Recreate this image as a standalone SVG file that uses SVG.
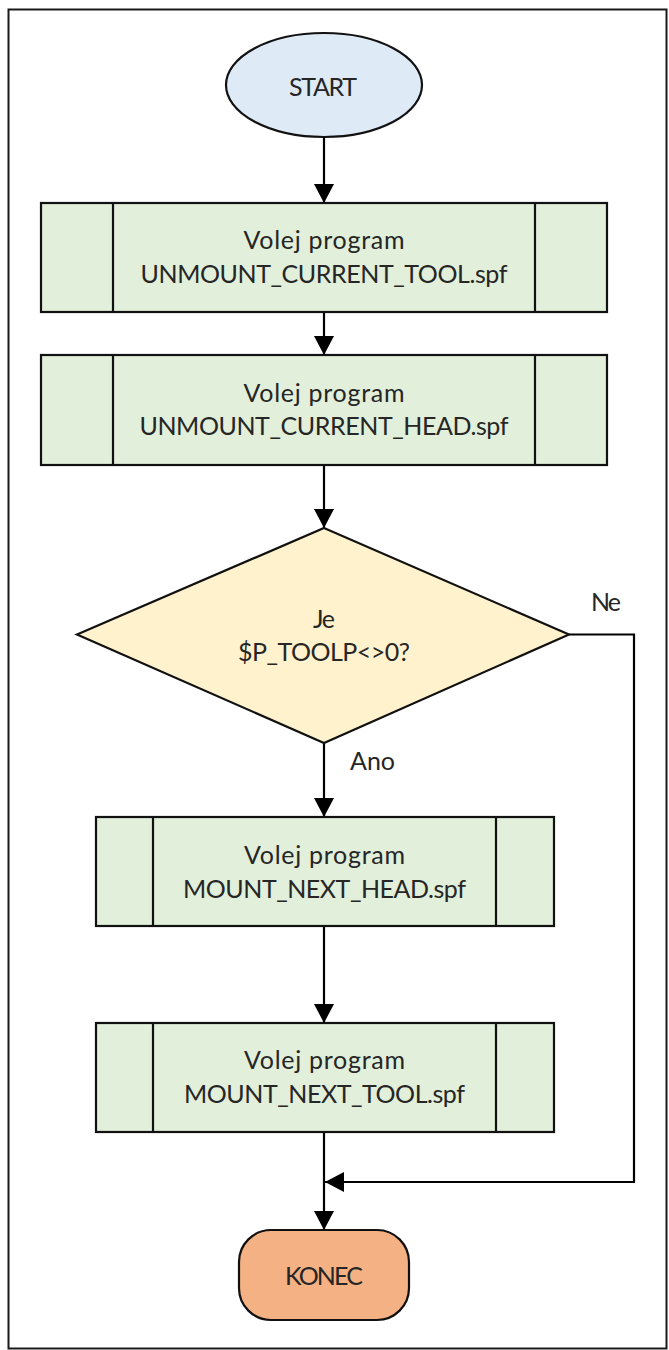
<svg xmlns="http://www.w3.org/2000/svg" width="669" height="1350" viewBox="0 0 669 1350">
  <style>
    .frame { fill: none; stroke: #1a1a1a; stroke-width: 2; }
    .shape { stroke: #111; stroke-width: 2.2; }
    .proc { fill: #E2EFDA; }
    .bar { stroke: #111; stroke-width: 2.2; fill: none; }
    .start { fill: #DEEBF7; }
    .decision { fill: #FFF2CC; }
    .end { fill: #F4B183; }
    .label { font-family: Lato, "Liberation Sans", sans-serif; font-size: 25px; fill: #262626; text-anchor: middle; }
    .edge-label { font-family: Lato, "Liberation Sans", sans-serif; font-size: 25px; fill: #262626; }
    .link { fill: none; stroke: #000; stroke-width: 2.2; }
  </style>
  <defs>
    <marker id="arrow" viewBox="0 0 19 20" refX="19" refY="10" markerWidth="19" markerHeight="20" markerUnits="userSpaceOnUse" orient="auto">
      <path d="M0,0 L19,10 L0,20 Z" fill="#000"/>
    </marker>
  </defs>

  <rect fill="#fff" x="0" y="0" width="669" height="1350"/>
  <rect class="frame" x="8.5" y="9.5" width="658" height="1339"/>

  <g id="connectors">
    <line class="link" x1="324" y1="137" x2="324" y2="203" marker-end="url(#arrow)"/>
    <line class="link" x1="324" y1="312" x2="324" y2="355" marker-end="url(#arrow)"/>
    <line class="link" x1="324" y1="465" x2="324" y2="528" marker-end="url(#arrow)"/>
    <line class="link" x1="324" y1="743" x2="324" y2="817" marker-end="url(#arrow)"/>
    <line class="link" x1="324" y1="926" x2="324" y2="1023" marker-end="url(#arrow)"/>
    <line class="link" x1="324" y1="1132" x2="324" y2="1230" marker-end="url(#arrow)"/>
    <path class="link" d="M569,634.5 H634 V1182 H325" marker-end="url(#arrow)"/>
    <text class="edge-label" x="591" y="611" textLength="30">Ne</text>
    <text class="edge-label" x="350" y="770" textLength="45">Ano</text>
  </g>

  <g id="start">
    <ellipse class="shape start" cx="324" cy="85" rx="98" ry="52"/>
    <text class="label" x="323" y="96" textLength="68">START</text>
  </g>

  <g id="unmount-tool">
    <rect class="shape proc" x="41" y="203" width="566" height="109"/>
    <line class="bar" x1="113" y1="203" x2="113" y2="312"/>
    <line class="bar" x1="535" y1="203" x2="535" y2="312"/>
    <text class="label" x="324" y="249" textLength="161">Volej program</text>
    <text class="label" x="324" y="283" textLength="367">UNMOUNT_CURRENT_TOOL.spf</text>
  </g>

  <g id="unmount-head">
    <rect class="shape proc" x="41" y="355" width="566" height="110"/>
    <line class="bar" x1="113" y1="355" x2="113" y2="465"/>
    <line class="bar" x1="535" y1="355" x2="535" y2="465"/>
    <text class="label" x="324" y="402" textLength="161">Volej program</text>
    <text class="label" x="324" y="435" textLength="369">UNMOUNT_CURRENT_HEAD.spf</text>
  </g>

  <g id="decision">
    <polygon class="shape decision" points="324,528 569,634.5 324,743 77,634.5"/>
    <text class="label" x="324" y="628" textLength="22">Je</text>
    <text class="label" x="324" y="661" textLength="172">$P_TOOLP&lt;&gt;0?</text>
  </g>

  <g id="mount-head">
    <rect class="shape proc" x="96" y="817" width="458" height="109"/>
    <line class="bar" x1="153" y1="817" x2="153" y2="926"/>
    <line class="bar" x1="496" y1="817" x2="496" y2="926"/>
    <text class="label" x="324.5" y="864" textLength="161">Volej program</text>
    <text class="label" x="324.5" y="898" textLength="283">MOUNT_NEXT_HEAD.spf</text>
  </g>

  <g id="mount-tool">
    <rect class="shape proc" x="96" y="1023" width="458" height="109"/>
    <line class="bar" x1="153" y1="1023" x2="153" y2="1132"/>
    <line class="bar" x1="496" y1="1023" x2="496" y2="1132"/>
    <text class="label" x="324.5" y="1069" textLength="161">Volej program</text>
    <text class="label" x="324.5" y="1103" textLength="281">MOUNT_NEXT_TOOL.spf</text>
  </g>

  <g id="end">
    <rect class="shape end" x="239" y="1230" width="170" height="90" rx="32" ry="32"/>
    <text class="label" x="324" y="1285" textLength="78">KONEC</text>
  </g>
</svg>
